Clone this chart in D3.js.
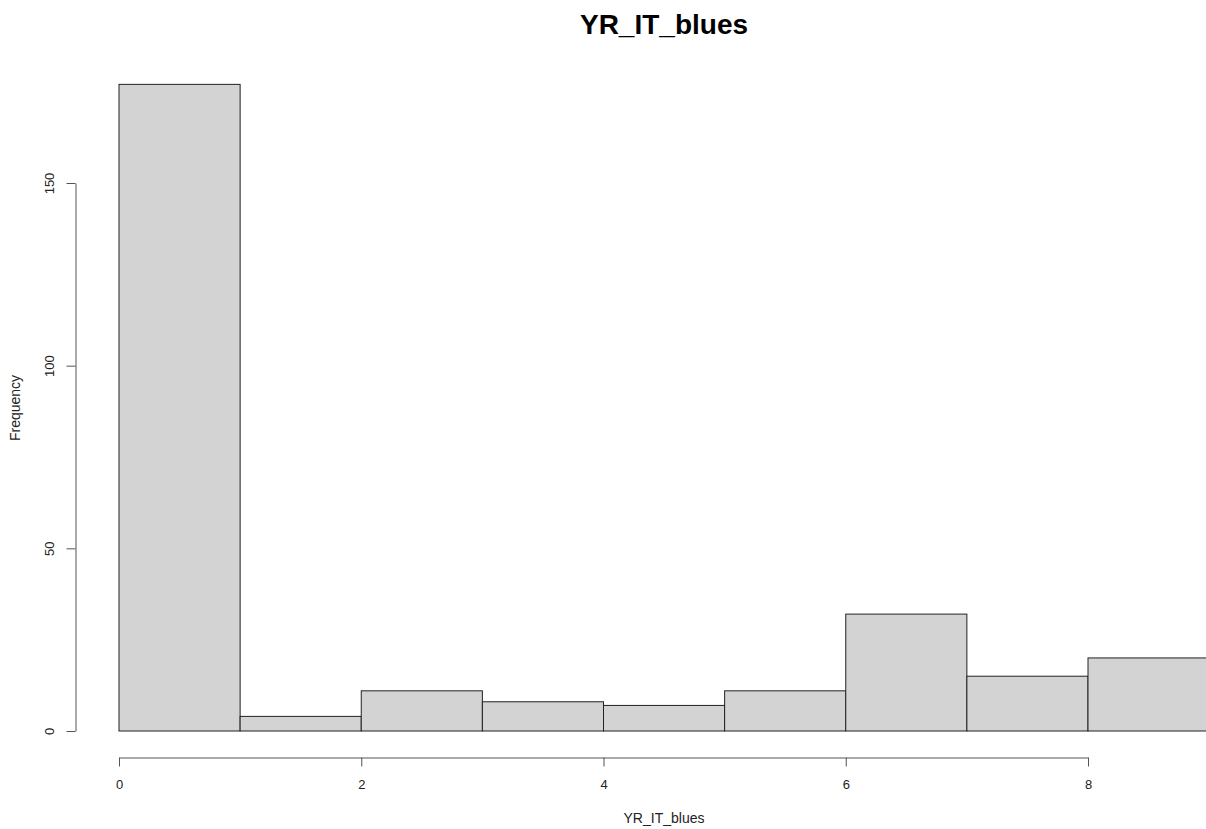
<!DOCTYPE html>
<html>
<head>
<meta charset="utf-8">
<script src="https://cdn.jsdelivr.net/npm/d3@7"></script>
<style>
  body { margin: 0; background: #fff; }
  svg { display: block; font-family: "Liberation Sans", Arial, sans-serif; }
</style>
</head>
<body>
<div id="chart"></div>
<script>
// histogram bins (left edges) and counts
const binStarts = [0, 1, 2, 3, 4, 5, 6, 7, 8];
const binWidth = 1;
const counts = [177, 4, 11, 8, 7, 11, 32, 15, 20];
const xTicks = [0, 2, 4, 6, 8];
const yTicks = [0, 50, 100, 150];
const title = "YR_IT_blues";
const xLabel = "YR_IT_blues";
const yLabel = "Frequency";

const width = 1206, height = 829;

const svg = d3.select("#chart").append("svg")
    .attr("width", width)
    .attr("height", height);

// scales fitted to the R device (plot runs past the right edge)
const x = d3.scaleLinear().domain([0, 8]).range([119, 1088]);
const y = d3.scaleLinear().domain([0, 150]).range([731, 183]);

// bars
svg.append("g")
    .selectAll("rect")
    .data(counts)
    .enter().append("rect")
    .attr("x", (d, i) => x(binStarts[i]))
    .attr("y", d => y(d))
    .attr("width", (d, i) => x(binStarts[i] + binWidth) - x(binStarts[i]))
    .attr("height", d => y(0) - y(d))
    .attr("fill", "#d3d3d3")
    .attr("stroke", "#222")
    .attr("stroke-width", 1);

// x axis
const xAxis = svg.append("g")
    .attr("transform", "translate(0,757.5)")
    .call(d3.axisBottom(x).tickValues(xTicks).tickSize(9).tickPadding(13).tickSizeOuter(0));
xAxis.select(".domain").attr("stroke", "#555");
xAxis.selectAll(".tick line").attr("stroke", "#555");
xAxis.selectAll("text").attr("font-size", 13).attr("fill", "#222")
    .attr("font-family", "Liberation Sans, Arial, sans-serif");

// y axis
const yAxis = svg.append("g")
    .attr("transform", "translate(75.5,0)")
    .call(d3.axisLeft(y).tickValues(yTicks).tickSize(9).tickSizeOuter(0));
yAxis.select(".domain").attr("stroke", "#555");
yAxis.selectAll(".tick line").attr("stroke", "#555");
yAxis.selectAll("text")
    .attr("font-size", 13).attr("fill", "#222")
    .attr("font-family", "Liberation Sans, Arial, sans-serif")
    .attr("x", null).attr("dy", null)
    .attr("text-anchor", "middle")
    .attr("transform", "translate(-22,0) rotate(-90)");

// title and axis labels
svg.append("text")
    .attr("x", 664).attr("y", 34)
    .attr("text-anchor", "middle")
    .attr("font-size", 28).attr("font-weight", "bold")
    .text(title);

svg.append("text")
    .attr("x", 664).attr("y", 823)
    .attr("text-anchor", "middle")
    .attr("font-size", 14).attr("fill", "#222")
    .text(xLabel);

svg.append("text")
    .attr("transform", "translate(20,408) rotate(-90)")
    .attr("text-anchor", "middle")
    .attr("font-size", 14).attr("fill", "#222")
    .text(yLabel);
</script>
</body>
</html>
